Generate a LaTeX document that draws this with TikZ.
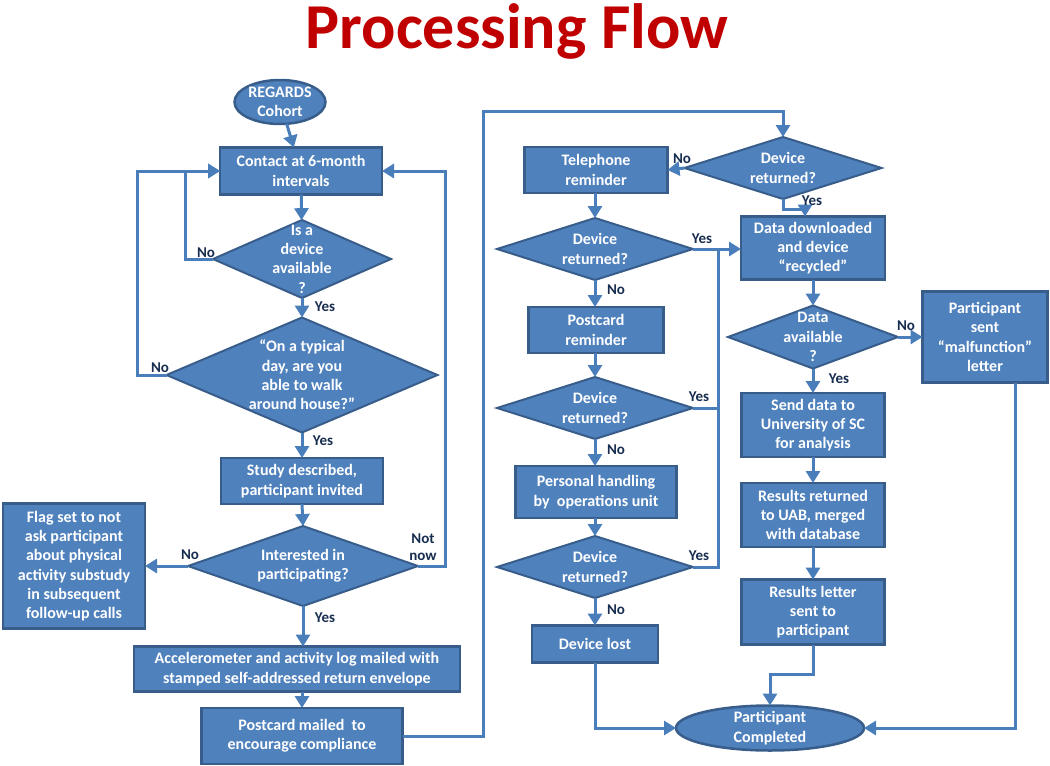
\documentclass[tikz,border=0pt]{standalone}
\usepackage{fontspec}
\setmainfont{Carlito}
\usetikzlibrary{shapes.geometric,arrows.meta,calc}
\definecolor{boxfill}{RGB}{79,129,189}
\definecolor{boxline}{RGB}{56,93,138}
\definecolor{conn}{RGB}{74,126,187}
\definecolor{lbl}{RGB}{23,45,80}
\definecolor{titlered}{RGB}{192,0,0}
\begin{document}
\begin{tikzpicture}[x=1pt,y=-1pt,
  box/.style={rectangle, fill=boxfill, draw=boxline, line width=2.5pt, text=white,
    font=\bfseries\fontsize{16}{19.3}\selectfont, align=center, inner sep=0pt, outer sep=0pt},
  dec/.style={diamond, fill=boxfill, draw=boxline, line width=2pt, inner sep=0pt, outer sep=0pt},
  oval/.style={ellipse, fill=boxfill, draw=boxline, line width=2.5pt, inner sep=0pt, outer sep=0pt},
  dtext/.style={text=white, font=\bfseries\fontsize{16}{19.3}\selectfont, align=center, inner sep=0pt},
  conn/.style={draw=conn, line width=3pt},
  arr/.style={conn, -{Triangle[width=14pt,length=12pt]}},
  lab/.style={text=lbl, font=\bfseries\fontsize{15}{17}\selectfont, inner sep=0pt, align=center}
]
\useasboundingbox (0,0) rectangle (1050,766);

\node[text=titlered, font=\bfseries\fontsize{64}{64}\selectfont, inner sep=0pt, anchor=base] (title) at (517,48) {Processing Flow};

% left column
\node[oval, minimum width=91pt, minimum height=44pt] (regards) at (280,102) {};
\node[dtext] at (regards) {REGARDS\\Cohort};
\node[box, minimum width=162pt, minimum height=47pt] (contact) at (301,171) {Contact at 6-month\\intervals};
\node[dec, minimum width=178pt, minimum height=78pt] (d1) at (302,259) {};
\node[dtext] at (d1) {Is a\\device\\available\\?};
\node[dec, minimum width=271pt, minimum height=115pt] (d2) at (302,375) {};
\node[dtext] at (d2) {``On a typical\\day, are you\\able to walk\\around house?''};
\node[box, minimum width=162pt, minimum height=46pt] (study) at (302,481) {Study described,\\participant invited};
\node[dec, minimum width=230pt, minimum height=80pt] (d3) at (303,566) {};
\node[dtext] at (d3) {Interested in\\participating?};
\node[box, minimum width=142pt, minimum height=125pt] (flag) at (74,566) {Flag set to not\\ask participant\\about physical\\activity substudy\\in subsequent\\follow-up calls};
\node[box, minimum width=326pt, minimum height=45pt] (accel) at (297,669) {Accelerometer and activity log mailed with\\stamped self-addressed return envelope};
\node[box, minimum width=201pt, minimum height=56pt] (post) at (302,736) {Postcard mailed\ \ to\\encourage compliance};

% middle column
\node[box, minimum width=143pt, minimum height=46pt] (tel) at (596,170) {Telephone\\reminder};
\node[dec, minimum width=196pt, minimum height=62pt] (d6) at (595,249) {};
\node[dtext] at (d6) {Device\\returned?};
\node[box, minimum width=135pt, minimum height=46pt] (prem) at (596,330) {Postcard\\reminder};
\node[dec, minimum width=196pt, minimum height=62pt] (d7) at (595,408) {};
\node[dtext] at (d7) {Device\\returned?};
\node[box, minimum width=161pt, minimum height=52pt] (pers) at (596,492) {Personal handling\\by\ \ operations unit};
\node[dec, minimum width=196pt, minimum height=62pt] (d8) at (595,567) {};
\node[dtext] at (d8) {Device\\returned?};
\node[box, minimum width=126pt, minimum height=37pt] (lost) at (595,644) {Device lost};

% right column
\node[dec, minimum width=197pt, minimum height=62pt] (d4) at (783,168) {};
\node[dtext] at (d4) {Device\\returned?};
\node[box, minimum width=144pt, minimum height=63pt] (data) at (813,248) {Data downloaded\\and device\\``recycled''};
\node[dec, minimum width=170pt, minimum height=63pt] (d5) at (813,337) {};
\node[dtext] at (d5) {Data\\available\\?};
\node[box, minimum width=125pt, minimum height=91pt] (mal) at (985,337) {Participant\\sent\\``malfunction''\\letter};
\node[box, minimum width=143pt, minimum height=64pt] (send) at (813,425) {Send data to\\University of SC\\for analysis};
\node[box, minimum width=143pt, minimum height=64pt] (resret) at (813,515) {Results returned\\to UAB, merged\\with database};
\node[box, minimum width=143pt, minimum height=65pt] (letter) at (813,612) {Results letter\\sent to\\participant};
\node[oval, minimum width=188pt, minimum height=45pt] (comp) at (770,728) {};
\node[dtext] at (comp) {Participant\\Completed};

\coordinate (topturn) at (483,111);
\coordinate (yesbus) at (718,249);

% connectors left
\draw[arr] (regards) -- (contact);
\draw[arr] (contact) -- (d1);
\draw[arr] (d1.west) -- ++(-28,0) |- (contact.west);
\draw[arr] (d2.west) -- ++(-29,0) |- (contact.west);
\draw[arr] (d1.south) -- (d2.north);
\draw[arr] (d2.south) -- (study.north);
\draw[arr] (study.south) -- (d3.north);
\draw[arr] (d3.west) -- (flag.east);
\draw[arr] (d3.east) -- ++(27,0) |- (contact.east);
\draw[arr] (d3.south) -- (accel.north -| d3.south);
\draw[arr] (accel.south -| post.north) -- (post.north);
\draw[arr] (post.east) -| (topturn) -| (d4.north);

% middle
\draw[arr] (d4.west) -- (tel.east);
\draw[arr] (tel.south -| d6.north) -- (d6.north);
\draw[arr] (d6.east) -- (d6.east -| data.west);
\draw[arr] (d6.south) -- (d6.south |- prem.north);
\draw[arr] (prem.south -| d7.north) -- (d7.north);
\draw[conn] (d7.east) -| (yesbus);
\draw[conn] (d8.east) -| (yesbus);
\draw[arr] (d7.south) -- (d7.south |- pers.north);
\draw[arr] (pers.south -| d8.north) -- (d8.north);
\draw[arr] (d8.south) -- (lost.north);
\draw[arr] (lost.south) |- (comp.west);

% right
\draw[arr] (d4.south) -- ++(0,10) -| ($(data.north)+(-8,0)$);
\draw[arr] (data.south) -- (d5.north);
\draw[arr] (d5.east) -- (mal.west);
\draw[arr] (d5.south) -- (send.north);
\draw[arr] (send.south) -- (resret.north);
\draw[arr] (resret.south) -- (letter.north);
\draw[arr] (letter.south) -- ++(0,30) -| (comp.north);
\draw[arr] ($(mal.south)+(30,0)$) |- (comp.east);

% labels
\node[lab] at (206,253) {No};
\node[lab] at (160,368) {No};
\node[lab] at (325,307) {Yes};
\node[lab] at (323,441) {Yes};
\node[lab] at (190,555) {No};
\node[lab] at (423,547) {Not\\now};
\node[lab] at (325,618) {Yes};
\node[lab] at (682,159) {No};
\node[lab] at (812,201) {Yes};
\node[lab] at (702,239) {Yes};
\node[lab] at (616,290) {No};
\node[lab] at (699,397) {Yes};
\node[lab] at (616,450) {No};
\node[lab] at (699,556) {Yes};
\node[lab] at (616,610) {No};
\node[lab] at (906,326) {No};
\node[lab] at (839,379) {Yes};
\end{tikzpicture}
\end{document}
